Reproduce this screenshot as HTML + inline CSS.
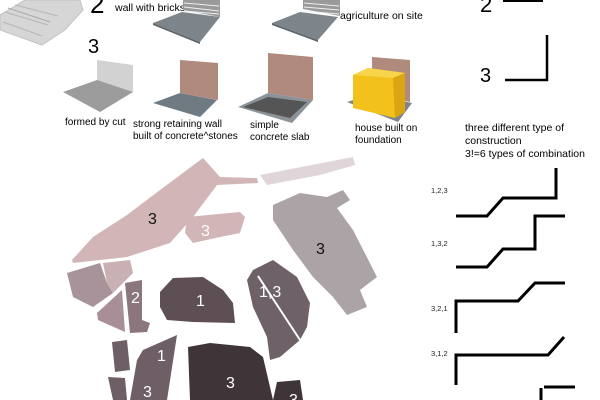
<!DOCTYPE html>
<html><head><meta charset="utf-8"><style>
html,body{margin:0;padding:0;background:#fff;width:600px;height:400px;overflow:hidden}
svg{display:block}
text{font-family:"Liberation Sans",sans-serif}
</style></head><body>
<svg width="600" height="400" viewBox="0 0 600 400" xmlns="http://www.w3.org/2000/svg">
<!-- stairs -->
<polygon points="0,15 25,0 80,0 83,10 65,30 42,45 0,30" fill="#d6d6d6" stroke="#bbb" stroke-width="0.8"/>
<polyline points="8,8 50,22 M0,0" fill="none" stroke="#aaa"/>
<line x1="5" y1="12" x2="48" y2="25" stroke="#b5b5b5"/>
<line x1="15" y1="5" x2="58" y2="16" stroke="#b5b5b5"/>
<line x1="3" y1="22" x2="42" y2="36" stroke="#b5b5b5"/>
<text x="90" y="13" font-size="26">2</text>
<text x="115" y="11" font-size="10.5">wall with bricks</text>
<text x="88" y="53" font-size="20">3</text>
<!-- slab 1 -->
<polygon points="183,0 220,0 220,17 183,10" fill="#9a9a9a"/>
<g stroke="#eee" stroke-width="1"><line x1="184" y1="3" x2="219" y2="6"/><line x1="184" y1="7" x2="219" y2="11"/><line x1="184" y1="11" x2="219" y2="14"/></g>
<polygon points="153,23 182,12 220,17 200,42" fill="#7d858b"/>
<polygon points="153,23 200,42 200,44 153,25" fill="#5f666b"/>
<!-- slab 2 -->
<polygon points="303,0 340,0 340,16 303,9" fill="#9a9a9a"/>
<g stroke="#eee" stroke-width="1"><line x1="304" y1="3" x2="339" y2="6"/><line x1="304" y1="7" x2="339" y2="10"/><line x1="304" y1="11" x2="339" y2="14"/></g>
<polygon points="272,23 300,12 338,17 318,40" fill="#7d858b"/>
<polygon points="272,23 318,40 318,42 272,25" fill="#5f666b"/>
<text x="340" y="19" font-size="10.5">agriculture on site</text>
<!-- cut -->
<polygon points="97,60 133,65 133,92 97,82" fill="#d2d2d2"/>
<polygon points="63,92 97,80 133,92 100,112" fill="#9c9c9c"/>
<!-- strong -->
<polygon points="180,60 218,63 218,100 180,93" fill="#b08a7d"/>
<polygon points="153,103 180,93 217,100 200,117" fill="#707a82"/>
<!-- simple -->
<polygon points="268,53 313,57 313,100 268,93" fill="#b08a7d"/>
<polygon points="238,107 268,93 313,100 292,123" fill="#8b9399"/>
<polygon points="243,107 268,97 307,102 290,118" fill="#555"/>
<!-- house -->
<polygon points="372,57 410,60 410,102 372,95" fill="#b08a7d"/>
<polygon points="347,102 370,95 412,103 398,122" fill="#7d858b"/>
<polygon points="353,75 368,68 405,73 405,112 395,118 353,108" fill="#f2c11c"/>
<polygon points="353,75 368,68 405,73 393,78" fill="#f7d44a"/>
<polygon points="393,78 405,73 405,112 395,118" fill="#d9a510"/>
<g font-size="10">
<text x="65" y="125">formed by cut</text>
<text x="133" y="127">strong retaining wall</text>
<text x="133" y="139">built of concrete^stones</text>
<text x="250" y="128">simple</text>
<text x="250" y="140">concrete slab</text>
<text x="355" y="131">house built on</text>
<text x="355" y="143">foundation</text>
</g>
<!-- right side -->
<text x="480" y="12" font-size="22">2</text>
<line x1="503" y1="1" x2="543" y2="1" stroke="#000" stroke-width="2"/>
<text x="480" y="82" font-size="20">3</text>
<polyline points="505,80 547,80 547,35" fill="none" stroke="#000" stroke-width="2.5"/>
<g font-size="10.5">
<text x="465" y="131">three different type of</text>
<text x="465" y="144">construction</text>
<text x="465" y="157">3!=6 types of combination</text>
</g>
<g font-size="7.5" fill="#222">
<text x="431" y="193">1,2,3</text>
<text x="431" y="246">1,3,2</text>
<text x="431" y="311">3,2,1</text>
<text x="431" y="356">3,1,2</text>
</g>
<g fill="none" stroke="#000" stroke-width="3">
<polyline points="456,216 487,216 503,198 556,198 556,168"/>
<polyline points="456,267 487,267 503,249 535,249 535,216 565,216"/>
<polyline points="456,333 456,301 518,301 535,283 565,283"/>
<polyline points="456,385 456,355 548,355 564,337"/>
<line x1="541" y1="388" x2="541" y2="400"/>
<line x1="544" y1="387" x2="575" y2="387"/>
</g>
<!-- map -->
<polygon points="72,260 93,237 127,215 160,190 203,158 220,177 257,178 258,183 217,185 193,217 170,243 127,257 73,263" fill="#d2b5b6"/>
<polygon points="260,175 353,157 355,165 320,175 267,185" fill="#e0d5d9"/>
<polygon points="187,217 240,212 245,217 240,233 220,237 193,243 185,233" fill="#d2b5b6"/>
<polygon points="273,205 300,193 327,197 343,190 350,200 337,208 353,230 377,277 360,290 367,307 347,315 333,297 313,277 293,250 273,220" fill="#aba3a6"/>
<polygon points="67,273 100,263 107,283 113,293 93,307 73,297" fill="#a8939a"/>
<polygon points="103,263 130,260 133,273 113,293 107,283" fill="#c9b0b3"/>
<polygon points="97,313 122,290 125,332 98,320" fill="#a88f97"/>
<polygon points="125,283 142,280 142,320 150,323 147,332 130,333" fill="#8c767e"/>
<polygon points="160,292 173,278 203,277 223,290 233,303 235,323 193,322 167,320 160,307" fill="#5e4f55"/>
<polygon points="253,270 273,260 297,277 310,303 307,327 300,340 280,357 270,360 267,337 253,307 247,280" fill="#6e6268"/>
<line x1="258" y1="276" x2="302" y2="343" stroke="#fff" stroke-width="2"/>
<polygon points="112,342 127,340 130,370 115,372" fill="#6e5f66"/>
<polygon points="108,377 125,378 127,400 113,400" fill="#6e5f66"/>
<polygon points="143,350 177,335 167,400 130,400 137,360" fill="#6e5f66"/>
<polygon points="188,347 210,343 250,347 263,357 273,400 190,400" fill="#3f3438"/>
<polygon points="277,382 300,380 303,400 273,400" fill="#3f3438"/>
<g font-family="DejaVu Sans, sans-serif" font-size="16">
<text x="148" y="224" fill="#111">3</text>
<text x="201" y="236" fill="#fff">3</text>
<text x="316" y="254" fill="#111">3</text>
<text x="131" y="303" fill="#fff">2</text>
<text x="196" y="306" fill="#fff">1</text>
<text x="259" y="297" fill="#fff">1,3</text>
<text x="157" y="361" fill="#fff">1</text>
<text x="143" y="397" fill="#fff">3</text>
<text x="226" y="388" fill="#fff">3</text>
<text x="289" y="405" fill="#fff">3</text>
</g>
</svg>
</body></html>
